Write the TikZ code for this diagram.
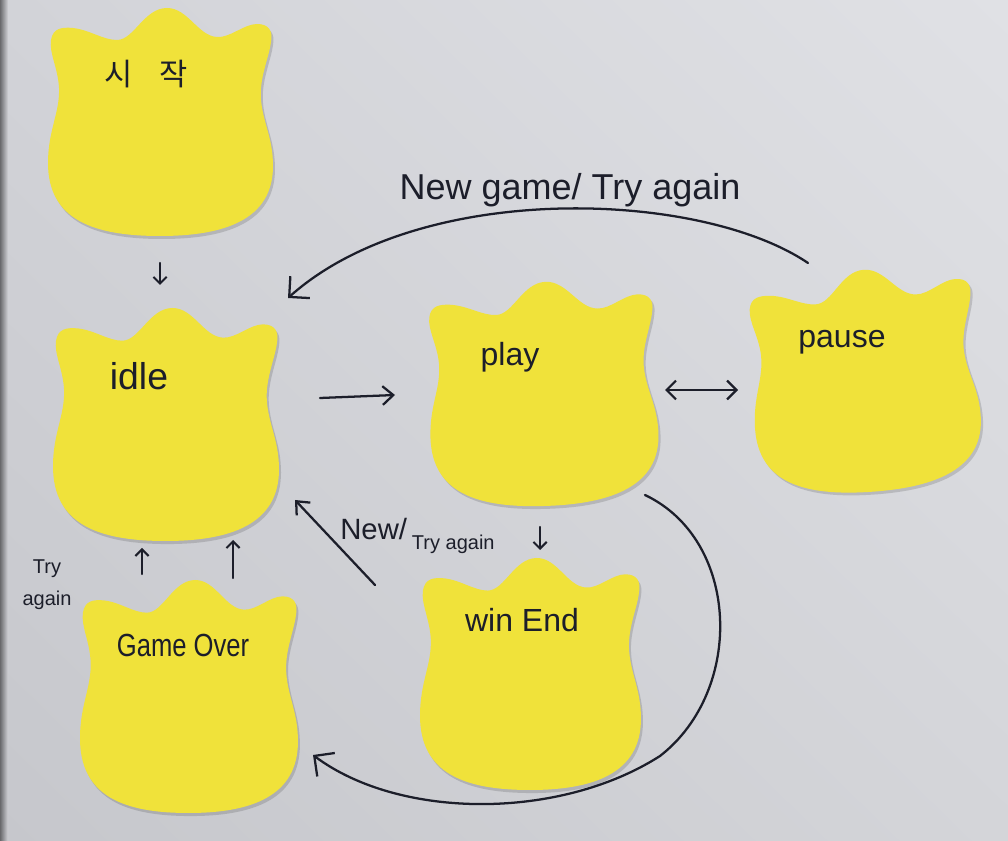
\documentclass[tikz,border=0pt]{standalone}
\usepackage{fontspec}
\setmainfont{Liberation Sans}
\newfontfamily\krfont{Noto Sans CJK KR}
\usetikzlibrary{arrows.meta,shadings}
\definecolor{bgUL}{RGB}{210,211,216}
\definecolor{bgUR}{RGB}{224,225,229}
\definecolor{bgLL}{RGB}{198,199,204}
\definecolor{bgLR}{RGB}{212,213,217}
\definecolor{notecol}{RGB}{240,226,58}
\definecolor{ink}{RGB}{28,30,42}
\definecolor{edgecol}{RGB}{95,95,98}
\tikzset{
  notefill/.style={fill=notecol},
  shadowfill/.style={fill=black, opacity=0.14},
  lbl/.style={text=ink, inner sep=0pt},
  conn/.style={draw=ink, line width=1.7pt, line cap=round},
  bighead/.style={-{Straight Barb[length=11pt,width=22pt,line width=1.7pt]}},
  midhead/.style={-{Straight Barb[length=8pt,width=14pt,line width=1.7pt]}},
  dblhead/.style={{Straight Barb[length=7pt,width=14pt,line width=1.7pt]}-{Straight Barb[length=7pt,width=14pt,line width=1.7pt]}},
  smallhead/.style={-{Straight Barb[length=5pt,width=10pt,line width=1.5pt]}}
}
\newcommand{\tulippath}{(119,0) .. controls (140,0) and (150,28) .. (169,29)
 .. controls (182,30) and (196,16) .. (209,16)
 .. controls (221,16) and (225,23) .. (223,34)
 .. controls (221,50) and (211,70) .. (213,92)
 .. controls (215,115) and (225,130) .. (225,158)
 .. controls (225,212) and (176,228) .. (112,228)
 .. controls (46,228) and (0,212) .. (0,155)
 .. controls (0,122) and (12,105) .. (11,80)
 .. controls (10,60) and (1,45) .. (3,32)
 .. controls (5,20) and (14,19) .. (25,20)
 .. controls (42,22) and (55,32) .. (69,32)
 .. controls (86,32) and (96,0) .. (119,0) -- cycle}
\newcommand{\tulip}[5]{%
  \begin{scope}[shift={(#1+#3/2,#2+#4/2)}, rotate=#5, xscale=#3/224, yscale=#4/228, shift={(-112,-114)}]
    \fill[shadowfill, shift={(2,3)}] \tulippath;
    \fill[notefill] \tulippath;
  \end{scope}}
\begin{document}
\begin{tikzpicture}[x=0.75pt, y=-0.75pt]
\useasboundingbox (0,0) rectangle (1008,841);
% background paper
\shade[upper left=bgUL, upper right=bgUR, lower left=bgLL, lower right=bgLR] (0,0) rectangle (1008,841);
\shade[left color=edgecol, right color=bgUL, opacity=0.9] (0,0) rectangle (8,841);

% sticky notes
\tulip{48}{8}{224}{228}{0}
\tulip{53}{308}{225}{233}{0}
\tulip{429}{282}{227}{224}{2}
\tulip{752}{270}{225}{222}{4}
\tulip{80}{580}{217}{233}{0}
\tulip{420}{558}{220}{232}{0}

% labels on notes
\node[lbl, font=\krfont\fontsize{23}{28}\selectfont] (start) at (146,74) {시\hspace{20pt}작};
\node[lbl, anchor=base, font=\fontsize{28}{32}\selectfont] (idle) at (139,390) {idle};
\node[lbl, anchor=base, font=\fontsize{24}{28}\selectfont] (play) at (510,366) {play};
\node[lbl, anchor=base, font=\fontsize{24}{28}\selectfont] (pause) at (842,348) {pause};
\node[lbl, anchor=base, font=\fontsize{24}{28}\selectfont] (gameover) at (183,657) {\scalebox{0.8}[1]{Game Over}};
\node[lbl, anchor=base, font=\fontsize{24}{28}\selectfont] (winend) at (522,632) {win End};

% connector labels
\node[lbl, anchor=base, font=\fontsize{27}{32}\selectfont] (lblnew) at (570,200) {New game/ Try again};
\node[lbl, anchor=base west, font=\fontsize{22}{26}\selectfont] (lblnew2) at (340,540) {New/\,\raisebox{-7pt}{\fontsize{15}{18}\selectfont Try again}};
\node[lbl, align=center, font=\fontsize{15}{24}\selectfont] (lbltry) at (47,585) {Try\\again};

% connector end points
\coordinate (s1) at (160,263); \coordinate (e1) at (160,285);
\coordinate (s2) at (320,398); \coordinate (e2) at (395,395);
\coordinate (s3) at (665,390); \coordinate (e3) at (738,390);
\coordinate (s4) at (808,263); \coordinate (e4) at (288,298);
\coordinate (s5) at (645,495); \coordinate (m5) at (660,756); \coordinate (e5) at (313,755);
\coordinate (s6) at (375,585); \coordinate (e6) at (295,500);
\coordinate (s7) at (142,574); \coordinate (e7) at (142,548);
\coordinate (s8) at (233,578); \coordinate (e8) at (233,540);
\coordinate (s9) at (540,527); \coordinate (e9) at (540,550);

% connectors
\draw[conn, smallhead] (s1) -- (e1);
\draw[conn, midhead] (s2) -- (e2);
\draw[conn, dblhead] (s3) -- (e3);
\draw[conn, bighead] (s4) .. controls (700,190) and (420,180) .. (e4);
\draw[conn, bighead] (s5) .. controls (740,540) and (745,690) .. (m5) .. controls (560,820) and (400,820) .. (e5);
\draw[conn, midhead] (s6) -- (e6);
\draw[conn, smallhead] (s7) -- (e7);
\draw[conn, smallhead] (s8) -- (e8);
\draw[conn, smallhead] (s9) -- (e9);
\end{tikzpicture}
\end{document}
